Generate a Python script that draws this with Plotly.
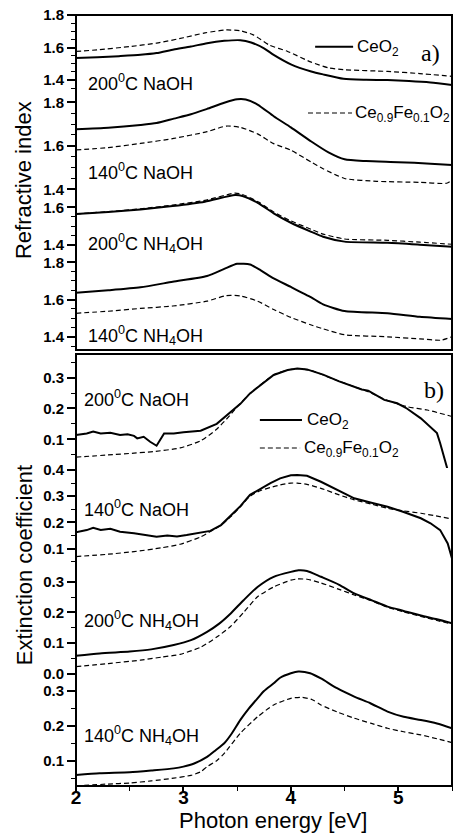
import plotly.graph_objects as go

# ---------------- data ----------------
# (a) refractive index, CeO2 = solid, Ce0.9Fe0.1O2 = dashed
a1_ceo2_x = [2.0, 2.2, 2.4, 2.6, 2.75, 2.91, 3.07, 3.22, 3.38, 3.53, 3.63, 3.75, 3.84, 4.0, 4.19, 4.3, 4.49, 4.7, 4.9, 5.1, 5.3, 5.5]
a1_ceo2_n = [1.535, 1.540, 1.547, 1.555, 1.566, 1.588, 1.606, 1.627, 1.641, 1.645, 1.631, 1.595, 1.555, 1.497, 1.453, 1.435, 1.408, 1.402, 1.400, 1.394, 1.385, 1.370]
a1_fe_x = [2.0, 2.2, 2.5, 2.75, 3.0, 3.2, 3.4, 3.53, 3.65, 3.8, 3.97, 4.19, 4.35, 4.49, 4.9, 5.2, 5.5]
a1_fe_n = [1.576, 1.586, 1.606, 1.627, 1.660, 1.690, 1.708, 1.703, 1.678, 1.615, 1.576, 1.51, 1.475, 1.464, 1.453, 1.440, 1.423]

a2_ceo2_x = [2.0, 2.3, 2.6, 2.75, 2.91, 3.07, 3.22, 3.38, 3.5, 3.58, 3.69, 3.84, 4.0, 4.19, 4.35, 4.5, 4.7, 5.0, 5.3, 5.5]
a2_ceo2_n = [1.676, 1.683, 1.696, 1.705, 1.725, 1.745, 1.770, 1.798, 1.814, 1.813, 1.790, 1.736, 1.685, 1.620, 1.570, 1.538, 1.530, 1.525, 1.518, 1.512]
a2_fe_x = [2.0, 2.3, 2.6, 2.91, 3.22, 3.4, 3.53, 3.69, 3.84, 4.0, 4.19, 4.3, 4.5, 4.8, 5.2, 5.45, 5.5]
a2_fe_n = [1.581, 1.592, 1.611, 1.634, 1.665, 1.691, 1.685, 1.655, 1.610, 1.580, 1.525, 1.495, 1.450, 1.437, 1.432, 1.428, 1.443]

a3_ceo2_x = [2.0, 2.3, 2.6, 2.9, 3.2, 3.48, 3.55, 3.7, 3.84, 4.0, 4.19, 4.3, 4.5, 4.9, 5.2, 5.5]
a3_ceo2_n = [1.564, 1.575, 1.589, 1.607, 1.630, 1.665, 1.660, 1.621, 1.568, 1.518, 1.470, 1.444, 1.418, 1.412, 1.402, 1.391]
a3_fe_x = [2.0, 2.3, 2.6, 2.9, 3.2, 3.48, 3.55, 3.7, 3.84, 4.0, 4.19, 4.3, 4.5, 4.9, 5.2, 5.5]
a3_fe_n = [1.565, 1.577, 1.592, 1.612, 1.637, 1.675, 1.668, 1.628, 1.575, 1.528, 1.483, 1.458, 1.432, 1.425, 1.415, 1.404]

a4_ceo2_x = [2.0, 2.3, 2.6, 2.9, 3.22, 3.38, 3.5, 3.62, 3.72, 3.84, 4.0, 4.19, 4.3, 4.5, 4.9, 5.2, 5.5]
a4_ceo2_n = [1.637, 1.650, 1.666, 1.696, 1.727, 1.765, 1.792, 1.788, 1.757, 1.714, 1.668, 1.612, 1.575, 1.539, 1.527, 1.508, 1.496]
a4_fe_x = [2.0, 2.3, 2.6, 2.9, 3.22, 3.4, 3.53, 3.69, 3.84, 4.0, 4.19, 4.3, 4.5, 4.9, 5.2, 5.4, 5.5]
a4_fe_n = [1.527, 1.538, 1.553, 1.566, 1.592, 1.622, 1.620, 1.592, 1.547, 1.505, 1.464, 1.444, 1.412, 1.401, 1.390, 1.383, 1.401]

# (b) extinction coefficient
b1_ceo2_x = [2.0, 2.10, 2.16, 2.23, 2.32, 2.41, 2.48, 2.54, 2.57, 2.63, 2.69, 2.75, 2.82, 2.91, 3.0, 3.16, 3.31, 3.44, 3.53, 3.62, 3.73, 3.84, 3.97, 4.06, 4.15, 4.3, 4.45, 4.59, 4.66, 4.72, 4.87, 4.99, 5.08, 5.21, 5.3, 5.36, 5.39, 5.46, 5.5]
b1_ceo2_k = [0.114, 0.119, 0.125, 0.119, 0.121, 0.114, 0.116, 0.111, 0.103, 0.108, 0.092, 0.079, 0.119, 0.119, 0.123, 0.128, 0.150, 0.188, 0.215, 0.249, 0.280, 0.309, 0.325, 0.330, 0.327, 0.310, 0.288, 0.271, 0.262, 0.258, 0.228, 0.217, 0.200, 0.168, 0.141, 0.120, 0.087, 0.0, 0.0]
b1_fe_x = [2.0, 2.3, 2.54, 2.72, 2.97, 3.16, 3.3, 3.4, 3.5, 3.62, 3.84, 3.97, 4.06, 4.2, 4.4, 4.59, 4.75, 4.87, 5.08, 5.27, 5.5]
b1_fe_k = [0.042, 0.049, 0.055, 0.060, 0.072, 0.095, 0.130, 0.165, 0.205, 0.249, 0.309, 0.325, 0.330, 0.322, 0.295, 0.271, 0.250, 0.230, 0.206, 0.195, 0.174]

b2_ceo2_x = [2.0, 2.1, 2.16, 2.23, 2.32, 2.41, 2.54, 2.66, 2.75, 2.85, 2.94, 3.03, 3.16, 3.25, 3.35, 3.44, 3.53, 3.62, 3.72, 3.81, 3.9, 4.0, 4.06, 4.15, 4.28, 4.45, 4.59, 4.75, 4.9, 5.05, 5.21, 5.3, 5.39, 5.46, 5.5]
b2_ceo2_k = [0.163, 0.171, 0.180, 0.171, 0.176, 0.165, 0.159, 0.150, 0.146, 0.150, 0.147, 0.152, 0.162, 0.168, 0.190, 0.225, 0.262, 0.305, 0.330, 0.350, 0.368, 0.380, 0.381, 0.378, 0.355, 0.320, 0.292, 0.275, 0.260, 0.240, 0.216, 0.197, 0.171, 0.120, 0.063]
b2_fe_x = [2.0, 2.3, 2.54, 2.79, 2.97, 3.16, 3.35, 3.44, 3.53, 3.62, 3.72, 3.81, 3.9, 4.0, 4.06, 4.15, 4.28, 4.45, 4.59, 4.75, 4.9, 5.05, 5.21, 5.35, 5.5]
b2_fe_k = [0.070, 0.079, 0.089, 0.103, 0.117, 0.145, 0.190, 0.222, 0.260, 0.300, 0.322, 0.333, 0.343, 0.350, 0.350, 0.345, 0.330, 0.305, 0.286, 0.270, 0.254, 0.244, 0.235, 0.225, 0.213]

b3_ceo2_x = [2.0, 2.22, 2.5, 2.7, 2.91, 3.07, 3.22, 3.33, 3.44, 3.56, 3.69, 3.84, 4.0, 4.07, 4.15, 4.28, 4.45, 4.59, 4.75, 4.9, 5.05, 5.21, 5.36, 5.5]
b3_ceo2_k = [0.059, 0.067, 0.073, 0.080, 0.094, 0.110, 0.137, 0.163, 0.197, 0.240, 0.283, 0.316, 0.332, 0.337, 0.335, 0.316, 0.290, 0.262, 0.240, 0.219, 0.205, 0.190, 0.178, 0.165]
b3_fe_x = [2.0, 2.3, 2.6, 2.8, 2.97, 3.16, 3.31, 3.44, 3.56, 3.69, 3.84, 4.0, 4.06, 4.15, 4.28, 4.45, 4.59, 4.75, 4.9, 5.05, 5.21, 5.36, 5.5]
b3_fe_k = [0.024, 0.034, 0.045, 0.055, 0.064, 0.087, 0.120, 0.155, 0.200, 0.251, 0.283, 0.305, 0.309, 0.308, 0.296, 0.275, 0.257, 0.238, 0.217, 0.202, 0.187, 0.174, 0.162]

b4_ceo2_x = [2.0, 2.22, 2.5, 2.7, 2.91, 3.0, 3.1, 3.22, 3.3, 3.38, 3.45, 3.53, 3.61, 3.69, 3.75, 3.84, 3.9, 4.0, 4.07, 4.18, 4.28, 4.43, 4.59, 4.74, 4.9, 5.05, 5.21, 5.36, 5.5]
b4_ceo2_k = [0.059, 0.064, 0.067, 0.072, 0.078, 0.083, 0.092, 0.111, 0.130, 0.150, 0.178, 0.217, 0.250, 0.279, 0.300, 0.322, 0.338, 0.351, 0.356, 0.351, 0.336, 0.308, 0.284, 0.265, 0.241, 0.226, 0.217, 0.207, 0.193]
b4_fe_x = [2.0, 2.3, 2.5, 2.7, 2.91, 3.07, 3.16, 3.22, 3.31, 3.38, 3.53, 3.69, 3.84, 4.0, 4.1, 4.2, 4.28, 4.43, 4.59, 4.75, 4.9, 5.05, 5.21, 5.36, 5.5]
b4_fe_k = [0.028, 0.033, 0.036, 0.042, 0.050, 0.058, 0.068, 0.083, 0.100, 0.121, 0.179, 0.226, 0.260, 0.279, 0.282, 0.275, 0.260, 0.240, 0.222, 0.207, 0.193, 0.183, 0.174, 0.163, 0.152]

sample_labels = ["200<sup>0</sup>C NaOH", "140<sup>0</sup>C NaOH",
                 "200<sup>0</sup>C NH<sub>4</sub>OH", "140<sup>0</sup>C NH<sub>4</sub>OH"]
series_names = ["CeO<sub>2</sub>", "Ce<sub>0.9</sub>Fe<sub>0.1</sub>O<sub>2</sub>"]
x_ticks = [2, 3, 4, 5]
a_ticks = [[1.4, 1.6, 1.8], [1.4, 1.6, 1.8], [1.4, 1.6], [1.4, 1.6, 1.8]]
a_minor = [[1.35, 1.45, 1.5, 1.55, 1.65, 1.7, 1.75], [1.45, 1.5, 1.55, 1.65, 1.7, 1.75],
           [1.45, 1.5, 1.55], [1.35, 1.45, 1.5, 1.55, 1.65, 1.7, 1.75]]
b_ticks = [[0.1, 0.2, 0.3], [0.1, 0.2, 0.3, 0.4], [0.0, 0.1, 0.2, 0.3], [0.1, 0.2, 0.3]]
b_minor = [[0.05, 0.15, 0.25, 0.35], [0.05, 0.15, 0.25, 0.35], [0.05, 0.15, 0.25], [0.05, 0.15, 0.25]]

# ---------------- layout helpers ----------------
FONT = "Liberation Sans, Arial, sans-serif"
panels = [
    (a1_ceo2_x, a1_ceo2_n, a1_fe_x, a1_fe_n, a_ticks[0], a_minor[0], [0.9014, 1.0], [1.3327, 1.8]),
    (a2_ceo2_x, a2_ceo2_n, a2_fe_x, a2_fe_n, a_ticks[1], a_minor[1], [0.7639, 0.9014], [1.3646, 1.852]),
    (a3_ceo2_x, a3_ceo2_n, a3_fe_x, a3_fe_n, a_ticks[2], a_minor[2], [0.6913, 0.7795], [1.3576, 1.7183]),
    (a4_ceo2_x, a4_ceo2_n, a4_fe_x, a4_fe_n, a_ticks[3], a_minor[3], [0.5655, 0.6913], [1.3303, 1.8499]),
    (b1_ceo2_x, b1_ceo2_k, b1_fe_x, b1_fe_k, b_ticks[0], b_minor[0], [0.4125, 0.5603], [0.0068, 0.377]),
    (b2_ceo2_x, b2_ceo2_k, b2_fe_x, b2_fe_k, b_ticks[1], b_minor[1], [0.2853, 0.4125], [0.034, 0.4076]),
    (b3_ceo2_x, b3_ceo2_k, b3_fe_x, b3_fe_k, b_ticks[2], b_minor[2], [0.1375, 0.2853], [-0.0195, 0.351]),
    (b4_ceo2_x, b4_ceo2_k, b4_fe_x, b4_fe_k, b_ticks[3], b_minor[3], [0.0, 0.1608], [0.0274, 0.3832]),
]
noisy = {4, 5}

fig = go.Figure()
layout = {}
for i, (sx, sy, dx, dy, ticks, minors, dom, rng) in enumerate(panels):
    yid = "y" if i == 0 else f"y{i+1}"
    key = "yaxis" if i == 0 else f"yaxis{i+1}"
    solid_shape = dict(shape="linear") if i in noisy else dict(shape="spline", smoothing=0.6)
    fig.add_trace(go.Scatter(x=sx, y=sy, mode="lines", xaxis="x", yaxis=yid,
                             line=dict(color="black", width=2, **solid_shape),
                             showlegend=False, name=series_names[0]))
    fig.add_trace(go.Scatter(x=dx, y=dy, mode="lines", xaxis="x", yaxis=yid,
                             line=dict(color="black", width=1.2, dash="5px,3px", shape="spline", smoothing=0.6),
                             showlegend=False, name=series_names[1]))
    layout[key] = dict(domain=dom, range=rng, anchor="x", showgrid=False, zeroline=False,
                       showline=False, ticks="outside", ticklen=8, tickwidth=1.5, tickcolor="black",
                       tickmode="array", tickvals=ticks, ticktext=["{:.1f}".format(t) for t in ticks],
                       tickfont=dict(family=FONT, size=15, color="black", weight="bold"),
                       minor=dict(tickmode="array", tickvals=minors, ticks="outside", ticklen=4,
                                  tickwidth=1.2, tickcolor="black", showgrid=False))

layout["xaxis"] = dict(domain=[0, 1], range=[2, 5.5], anchor="y8", showgrid=False, zeroline=False,
                       showline=False, ticks="outside", ticklen=6, tickwidth=1.5, tickcolor="black",
                       tickmode="array", tickvals=x_ticks, ticktext=[str(t) for t in x_ticks],
                       ticklabelstandoff=-12,
                       tickfont=dict(family=FONT, size=19, color="black", weight="bold"),
                       minor=dict(dtick=0.5, tick0=0, ticks="outside", ticklen=4, tickwidth=1.2, tickcolor="black"))

shapes = [
    dict(type="rect", xref="paper", yref="paper", x0=0, x1=1, y0=0.5655, y1=1.0,
         line=dict(color="black", width=2), layer="above"),
    dict(type="rect", xref="paper", yref="paper", x0=0, x1=1, y0=0.0, y1=0.5603,
         line=dict(color="black", width=2), layer="above"),
    # legend samples (a)
    dict(type="line", xref="paper", yref="paper", x0=0.636, x1=0.737, y0=0.9589, y1=0.9589,
         line=dict(color="black", width=2)),
    dict(type="line", xref="paper", yref="paper", x0=0.617, x1=0.734, y0=0.8729, y1=0.8729,
         line=dict(color="black", width=1.2, dash="5px,3px")),
    # legend samples (b)
    dict(type="line", xref="paper", yref="paper", x0=0.489, x1=0.601, y0=0.4747, y1=0.4747,
         line=dict(color="black", width=2)),
    dict(type="line", xref="paper", yref="paper", x0=0.489, x1=0.596, y0=0.4384, y1=0.4384,
         line=dict(color="black", width=1.2, dash="5px,3px")),
]

def txt(x, y, s, size=18, family=FONT, xanchor="left", angle=0):
    return dict(x=x, y=y, xref="paper", yref="paper", text=s, showarrow=False,
                xanchor=xanchor, yanchor="middle", textangle=angle,
                font=dict(family=family, size=size, color="black"))

label_y = [0.9122, 0.7967, 0.7035, 0.5845, 0.5032, 0.3602, 0.2150, 0.0655]
label_x = [0.027, 0.027, 0.027, 0.027, 0.015, 0.015, 0.015, 0.015]
annotations = [txt(label_x[i], label_y[i], sample_labels[i % 4]) for i in range(8)]
annotations += [
    txt(0.742, 0.9575, series_names[0], size=17),
    txt(0.737, 0.8715, series_names[1], size=17),
    txt(0.609, 0.4733, series_names[0], size=17),
    txt(0.600, 0.4370, series_names[1], size=17),
    txt(0.913, 0.9507, "a)", size=24, family="Liberation Serif, Times New Roman, serif"),
    txt(0.921, 0.5136, "b)", size=24, family="Liberation Serif, Times New Roman, serif"),
    txt(-0.138, 0.786, "Refractive index", size=22, xanchor="center", angle=-90),
    txt(-0.138, 0.2866, "Extinction coefficient", size=22, xanchor="center", angle=-90),
    txt(0.525, -0.0445, "Photon energy [eV]", size=22, xanchor="center"),
]

fig.update_layout(**layout)
fig.update_layout(width=457, height=837, margin=dict(l=76, r=5, t=15, b=51),
                  paper_bgcolor="white", plot_bgcolor="rgba(0,0,0,0)",
                  shapes=shapes, annotations=annotations, showlegend=False)

fig.write_html("out.html")
